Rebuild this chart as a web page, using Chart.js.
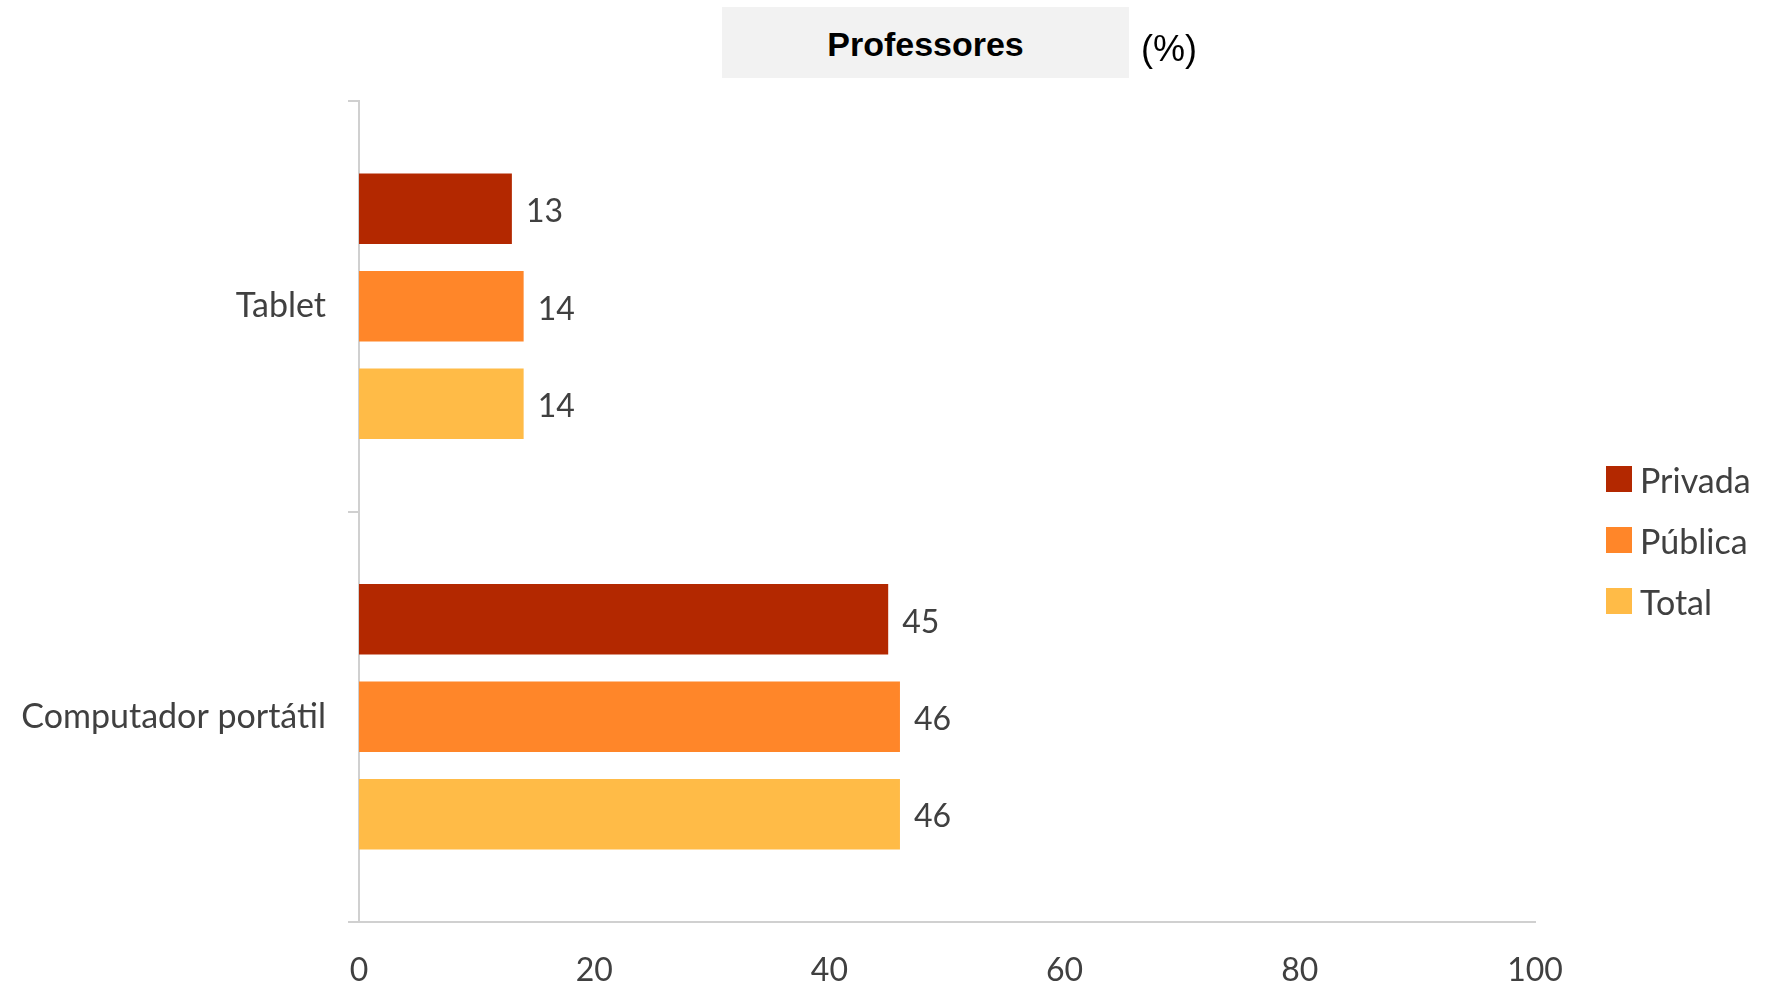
<!DOCTYPE html>
<html lang="pt">
<head>
<meta charset="utf-8">
<title>Professores (%)</title>
<script src="https://cdn.jsdelivr.net/npm/chart.js@4.4.1/dist/chart.umd.min.js"></script>
<style>
  html, body { margin: 0; padding: 0; background: #fff; }
  #wrap { position: relative; width: 1767px; height: 988px; overflow: hidden; }
  #chart { position: absolute; left: 0; top: 0; }
  .title-box {
    position: absolute; left: 722px; top: 7px; width: 407px; height: 71px;
    background: #f2f2f2; display: flex; align-items: center; justify-content: center;
    box-sizing: border-box; padding-top: 4px;
    font: bold 34px "Liberation Sans", Arial, sans-serif; color: #000;
  }
  .unit {
    position: absolute; left: 1141px; top: 26px;
    font: 36px "Liberation Sans", Arial, sans-serif; color: #000; line-height: 46px;
  }
  .legend { position: absolute; left: 1606px; top: 466px; }
  .legend-item { display: flex; align-items: center; height: 26px; margin-bottom: 35px;
    font: 34px Lato, sans-serif; color: #404040; white-space: nowrap; }
  .legend-item span.box { width: 26px; height: 26px; margin-right: 8px; flex: none; }
</style>
</head>
<body>
<div id="wrap">
  <canvas id="chart" width="1767" height="988"></canvas>
  <div class="title-box">Professores</div>
  <div class="unit">(%)</div>
  <div class="legend" id="legend"></div>
</div>
<script>
// data
const categories = ['Tablet', 'Computador portátil'];
const seriesNames = ['Privada', 'Pública', 'Total'];
const privada = [13, 45];
const publica = [14, 46];
const total = [14, 46];
const xTicks = [0, 20, 40, 60, 80, 100];

const colors = ['#b32800', '#ff8629', '#ffbb47'];
const textColor = '#404040';
const axisColor = '#d0d0d0';

// legend as html
document.getElementById('legend').innerHTML = seriesNames.map((name, i) =>
  `<div class="legend-item"><span class="box" style="background:${colors[i]}"></span>${name}</div>`
).join('');

// value labels at bar ends
const valueLabels = {
  id: 'valueLabels',
  afterDatasetsDraw(chart) {
    const ctx = chart.ctx;
    ctx.save();
    ctx.font = '32px Lato, sans-serif';
    ctx.fillStyle = textColor;
    ctx.textAlign = 'left';
    ctx.textBaseline = 'middle';
    chart.data.datasets.forEach((ds, i) => {
      chart.getDatasetMeta(i).data.forEach((bar, j) => {
        ctx.fillText(String(ds.data[j]), bar.x + 14, bar.y + 3);
      });
    });
    ctx.restore();
  }
};

function draw() {
  Chart.defaults.font.family = 'Lato, sans-serif';
  Chart.defaults.color = textColor;

  new Chart(document.getElementById('chart'), {
    type: 'bar',
    data: {
      labels: categories,
      datasets: [privada, publica, total].map((vals, i) => ({
        label: seriesNames[i],
        data: vals,
        backgroundColor: colors[i],
        borderWidth: 0,
        categoryPercentage: 0.712,
        barPercentage: 0.724
      }))
    },
    options: {
      indexAxis: 'y',
      responsive: false,
      animation: false,
      layout: { padding: { left: 0, top: 101, right: 232, bottom: 0 } },
      plugins: {
        legend: { display: false },
        tooltip: { enabled: false }
      },
      scales: {
        x: {
          min: 0,
          max: 100,
          afterBuildTicks(scale) { scale.ticks = xTicks.map(v => ({ value: v })); },
          afterFit(scale) { scale.height = 66; },
          grid: { display: false },
          border: { display: true, color: axisColor, width: 2 },
          ticks: { font: { size: 32, lineHeight: 1 }, color: textColor, padding: 25, maxRotation: 0 }
        },
        y: {
          afterFit(scale) { scale.width = 359; },
          grid: { display: true, drawOnChartArea: false, drawTicks: true, tickLength: 11, color: axisColor, lineWidth: 2 },
          border: { display: true, color: axisColor, width: 2 },
          ticks: { font: { size: 34 }, color: textColor, padding: 22 }
        }
      }
    },
    plugins: [valueLabels]
  });
}

if (document.fonts && document.fonts.load) {
  document.fonts.load('32px Lato').then(draw, draw);
} else {
  draw();
}
</script>
</body>
</html>
